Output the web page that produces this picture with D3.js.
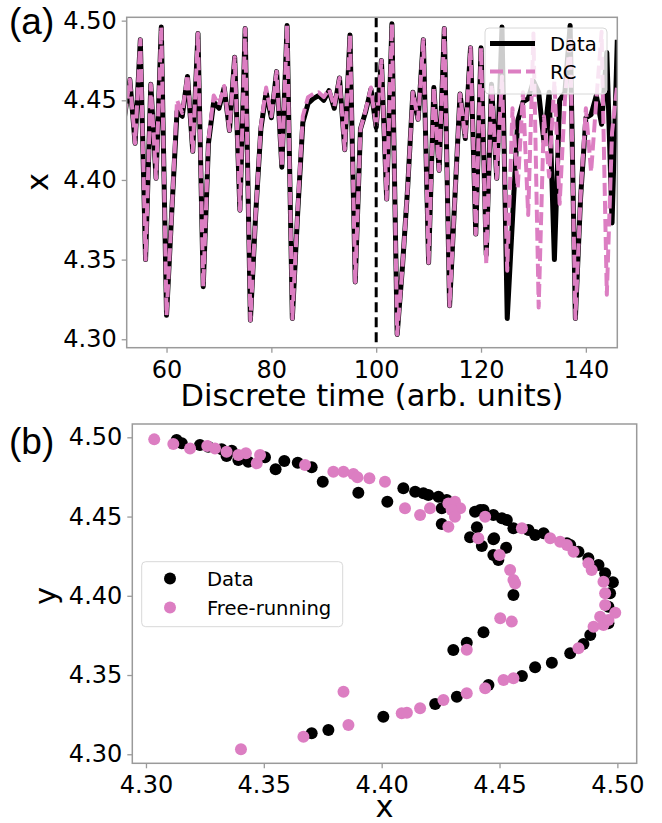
<!DOCTYPE html>
<html>
<head>
<meta charset="utf-8">
<script src="https://cdn.jsdelivr.net/npm/d3@7"></script>
<style>
  body { margin: 0; background: #fff; }
  text { font-family: "DejaVu Sans", sans-serif; }
</style>
</head>
<body>
<script>
// ---- data ----
var timeStart = 52   // first discrete time step shown (clipped at left edge)

var dataSeries = [4.440, 4.463, 4.423, 4.488, 4.350, 4.460, 4.401, 4.496, 4.315, 4.380,
  4.443, 4.440, 4.465, 4.418, 4.492, 4.333, 4.423, 4.449, 4.445, 4.458,
  4.431, 4.477, 4.381, 4.495, 4.312, 4.378, 4.432, 4.455, 4.439, 4.468,
  4.408, 4.497, 4.313, 4.378, 4.436, 4.448, 4.451, 4.453, 4.450, 4.456,
  4.445, 4.464, 4.419, 4.491, 4.336, 4.432, 4.443, 4.457, 4.433, 4.475,
  4.388, 4.498, 4.303, 4.345, 4.395, 4.455, 4.438, 4.488, 4.348, 4.458,
  4.406, 4.495, 4.321, 4.388, 4.454, 4.426, 4.483, 4.366, 4.483, 4.353,
  4.460, 4.401, 4.496, 4.313, 4.375, 4.437, 4.449, 4.451, 4.462, 4.455,
  4.424, 4.455, 4.350, 4.450, 4.455, 4.497, 4.313, 4.389, 4.439, 4.441,
  4.453, 4.435, 4.480, 4.373, 4.488]

var rcSeries = [4.440, 4.463, 4.423, 4.488, 4.350, 4.460, 4.401, 4.496, 4.315, 4.380,
  4.450, 4.442, 4.466, 4.418, 4.492, 4.333, 4.425, 4.453, 4.447, 4.459,
  4.431, 4.477, 4.381, 4.495, 4.312, 4.378, 4.434, 4.458, 4.440, 4.468,
  4.408, 4.497, 4.313, 4.380, 4.440, 4.452, 4.454, 4.455, 4.452, 4.457,
  4.446, 4.464, 4.419, 4.491, 4.336, 4.432, 4.444, 4.458, 4.433, 4.475,
  4.388, 4.498, 4.303, 4.345, 4.395, 4.455, 4.438, 4.488, 4.348, 4.458,
  4.406, 4.495, 4.321, 4.388, 4.454, 4.426, 4.483, 4.366, 4.483, 4.347,
  4.460, 4.401, 4.465, 4.343, 4.445, 4.395, 4.455, 4.378, 4.492, 4.320,
  4.440, 4.402, 4.462, 4.385, 4.450, 4.490, 4.313, 4.390, 4.445, 4.405,
  4.450, 4.493, 4.328, 4.430, 4.460]

var splitTime = 100
var timeTicks = [60, 80, 100, 120, 140]
var xTicks = [4.30, 4.35, 4.40, 4.45, 4.50]

var dataPtsX = [4.3130, 4.3152, 4.3229, 4.3264, 4.3321, 4.3342, 4.3364, 4.3392, 4.3434, 4.3505,
  4.3550, 4.3587, 4.3644, 4.3703, 4.3750, 4.3901, 4.3703, 4.3774, 4.4007, 4.4092,
  4.4024, 4.4142, 4.4177, 4.4198, 4.4241, 4.4276, 4.4255, 4.4255, 4.4375, 4.4404,
  4.4425, 4.4396, 4.4418, 4.4432, 4.4474, 4.4510, 4.4531, 4.4474, 4.4477, 4.4528,
  4.4474, 4.4495, 4.4559, 4.4623, 4.4651, 4.4687, 4.4786, 4.4800, 4.4835, 4.4877,
  4.4920, 4.4948, 4.4981, 4.4969, 4.4962, 4.4962, 4.4885, 4.4559, 4.4432, 4.4361,
  4.4304, 4.4856, 4.4800, 4.4722, 4.4651, 4.4595, 4.4453, 4.4319, 4.4227]
var dataPtsY = [4.4983, 4.4962, 4.4951, 4.4941, 4.4924, 4.4882, 4.4915, 4.4857, 4.4846, 4.4874,
  4.4798, 4.4850, 4.4840, 4.4811, 4.4720, 4.4650, 4.3132, 4.3153, 4.3237, 4.4678,
  4.4594, 4.4657, 4.4647, 4.4636, 4.4625, 4.4604, 4.4552, 4.4453, 4.4369, 4.4432,
  4.4314, 4.4531, 4.4541, 4.4541, 4.4510, 4.4489, 4.4478, 4.4357, 4.4363, 4.4303,
  4.4257, 4.4226, 4.4426, 4.4415, 4.4384, 4.4394, 4.4331, 4.4320, 4.4278, 4.4237,
  4.4194, 4.4142, 4.4085, 4.4016, 4.3931, 4.3826, 4.3753, 4.4005, 4.3770, 4.3704,
  4.3658, 4.3696, 4.3637, 4.3578, 4.3549, 4.3494, 4.3437, 4.3363, 4.3317]

var freePtsX = [4.3035, 4.3116, 4.3187, 4.3260, 4.3293, 4.3342, 4.3392, 4.3424, 4.3470, 4.3484,
  4.3675, 4.3795, 4.3838, 4.3880, 4.3897, 4.3948, 4.4014, 4.4099, 4.4163, 4.4205,
  4.4283, 4.4311, 4.4333, 4.4297, 4.4311, 4.4283, 4.4439, 4.4595, 4.4410, 4.4500,
  4.4545, 4.4559, 4.4566, 4.4503, 4.4552, 4.4361, 4.4715, 4.4757, 4.4786, 4.4814,
  4.4877, 4.4891, 4.4941, 4.4948, 4.4948, 4.4991, 4.4927, 4.4899, 4.4941, 4.4962,
  4.4835, 4.4559, 4.4517, 4.4439, 4.4361, 4.4262, 4.4163, 4.4085, 4.4107, 4.3838,
  4.3668, 4.3859, 4.3403]
var freePtsY = [4.4987, 4.4958, 4.4930, 4.4945, 4.4930, 4.4909, 4.4888, 4.4899, 4.4836, 4.4888,
  4.4825, 4.4783, 4.4783, 4.4768, 4.4748, 4.4741, 4.4720, 4.4552, 4.4510, 4.4552,
  4.4583, 4.4594, 4.4552, 4.4541, 4.4499, 4.4436, 4.4499, 4.4426, 4.4363, 4.4257,
  4.4163, 4.4099, 4.4078, 4.3858, 4.3837, 4.3660, 4.4363, 4.4341, 4.4320, 4.4278,
  4.4205, 4.4163, 4.4089, 4.4016, 4.3942, 4.3893, 4.3868, 4.3805, 4.3816, 4.3847,
  4.3669, 4.3479, 4.3469, 4.3416, 4.3385, 4.3343, 4.3290, 4.3259, 4.3262, 4.3395,
  4.3111, 4.3185, 4.3032]

var black = "#000"
var pink = "#dc7ec2"
var spine = "#9a9a9a"
var dotR = 6

var svg = d3.select("body").append("svg")
  .attr("width", 662)
  .attr("height", 823)

function styleAxis(g) {
  g.select(".domain").remove()
  g.selectAll(".tick line").attr("stroke", spine).attr("stroke-width", 1.3)
  g.selectAll(".tick text").attr("fill", "#000")
    .style("font-family", "DejaVu Sans").style("font-size", "24px")
}

// ---------------- panel (a) ----------------
var ax = {l: 126.7, r: 617.3, t: 17.3, b: 347.7}
var xa = d3.scaleLinear().domain([52.4, 146]).range([ax.l, ax.r])
var ya = d3.scaleLinear().domain([4.2947, 4.5021]).range([ax.b, ax.t])

svg.append("clipPath").attr("id", "clipA").append("rect")
  .attr("x", ax.l).attr("y", ax.t).attr("width", ax.r - ax.l).attr("height", ax.b - ax.t)

var ga = svg.append("g")
var plotA = ga.append("g").attr("clip-path", "url(#clipA)")

var lineA = d3.line()
  .x(function(d, i) { return xa(timeStart + i) })
  .y(function(d) { return ya(d) })

plotA.append("path").datum(dataSeries)
  .attr("d", lineA).attr("fill", "none")
  .attr("stroke", black).attr("stroke-width", 5)
  .attr("stroke-linejoin", "round")

plotA.append("path").datum(rcSeries)
  .attr("d", lineA).attr("fill", "none")
  .attr("stroke", pink).attr("stroke-width", 4)
  .attr("stroke-dasharray", "13,5")
  .attr("stroke-linejoin", "round")

plotA.append("line")
  .attr("x1", xa(splitTime)).attr("x2", xa(splitTime))
  .attr("y1", ax.t).attr("y2", ax.b)
  .attr("stroke", black).attr("stroke-width", 3)
  .attr("stroke-dasharray", "10,5")

ga.append("g").attr("transform", "translate(0," + ax.b + ")")
  .call(d3.axisBottom(xa).tickValues(timeTicks).tickSize(5).tickPadding(8))
  .call(styleAxis)

ga.append("g").attr("transform", "translate(" + ax.l + ",0)")
  .call(d3.axisLeft(ya).tickValues(xTicks).tickFormat(d3.format(".2f")).tickSize(5).tickPadding(5))
  .call(styleAxis)

ga.append("rect")
  .attr("x", ax.l).attr("y", ax.t).attr("width", ax.r - ax.l).attr("height", ax.b - ax.t)
  .attr("fill", "none").attr("stroke", spine).attr("stroke-width", 1.5)

// legend (a)
var la = ga.append("g")
la.append("rect").attr("x", 485).attr("y", 28).attr("width", 122).attr("height", 66)
  .attr("rx", 4).attr("fill", "#fff").attr("fill-opacity", 0.8)
  .attr("stroke", "#d8d8d8").attr("stroke-width", 1)
la.append("line").attr("x1", 490).attr("x2", 535).attr("y1", 43.5).attr("y2", 43.5)
  .attr("stroke", black).attr("stroke-width", 5)
la.append("line").attr("x1", 490).attr("x2", 535).attr("y1", 71.5).attr("y2", 71.5)
  .attr("stroke", pink).attr("stroke-width", 4).attr("stroke-dasharray", "13,5")
la.append("text").attr("x", 550).attr("y", 50.5).text("Data").style("font-size", "19.6px")
la.append("text").attr("x", 550).attr("y", 78.5).text("RC").style("font-size", "19.6px")

ga.append("text").attr("x", (ax.l + ax.r) / 2).attr("y", 406)
  .attr("text-anchor", "middle").style("font-size", "30.5px")
  .text("Discrete time (arb. units)")
ga.append("text").attr("transform", "translate(48,182) rotate(-90)")
  .attr("text-anchor", "middle").style("font-size", "30.5px").text("x")
ga.append("text").attr("x", 9).attr("y", 34)
  .style("font-family", "Liberation Sans").style("font-size", "37px").text("(a)")

// ---------------- panel (b) ----------------
var bx = {l: 132.3, r: 636.7, t: 424, b: 763.3}
var xb = d3.scaleLinear().domain([4.2942, 4.5082]).range([bx.l, bx.r])
var yb = d3.scaleLinear().domain([4.2943, 4.5084]).range([bx.b, bx.t])

var gb = svg.append("g")

gb.append("g").attr("transform", "translate(0," + bx.b + ")")
  .call(d3.axisBottom(xb).tickValues(xTicks).tickFormat(d3.format(".2f")).tickSize(5).tickPadding(8))
  .call(styleAxis)
gb.append("g").attr("transform", "translate(" + bx.l + ",0)")
  .call(d3.axisLeft(yb).tickValues(xTicks).tickFormat(d3.format(".2f")).tickSize(5).tickPadding(5))
  .call(styleAxis)

gb.append("g").selectAll("circle")
  .data(dataPtsX)
  .enter().append("circle")
  .attr("cx", function(d) { return xb(d) })
  .attr("cy", function(d, i) { return yb(dataPtsY[i]) })
  .attr("r", dotR).attr("fill", black)

gb.append("g").selectAll("circle")
  .data(freePtsX)
  .enter().append("circle")
  .attr("cx", function(d) { return xb(d) })
  .attr("cy", function(d, i) { return yb(freePtsY[i]) })
  .attr("r", dotR).attr("fill", pink)

gb.append("rect")
  .attr("x", bx.l).attr("y", bx.t).attr("width", bx.r - bx.l).attr("height", bx.b - bx.t)
  .attr("fill", "none").attr("stroke", spine).attr("stroke-width", 1.5)

// legend (b)
var lb = gb.append("g")
lb.append("rect").attr("x", 141.7).attr("y", 561.7).attr("width", 201).attr("height", 65)
  .attr("rx", 4).attr("fill", "#fff").attr("fill-opacity", 0.8)
  .attr("stroke", "#d8d8d8").attr("stroke-width", 1)
lb.append("circle").attr("cx", 170).attr("cy", 578.5).attr("r", dotR).attr("fill", black)
lb.append("circle").attr("cx", 170).attr("cy", 607.5).attr("r", dotR).attr("fill", pink)
lb.append("text").attr("x", 207).attr("y", 585.5).text("Data").style("font-size", "19.6px")
lb.append("text").attr("x", 207).attr("y", 614.5).text("Free-running").style("font-size", "19.6px")

gb.append("text").attr("x", (bx.l + bx.r) / 2).attr("y", 817)
  .attr("text-anchor", "middle").style("font-size", "30.5px").text("x")
gb.append("text").attr("transform", "translate(56,596) rotate(-90)")
  .attr("text-anchor", "middle").style("font-size", "30.5px").text("y")
gb.append("text").attr("x", 9).attr("y", 454)
  .style("font-family", "Liberation Sans").style("font-size", "37px").text("(b)")
</script>
</body>
</html>
